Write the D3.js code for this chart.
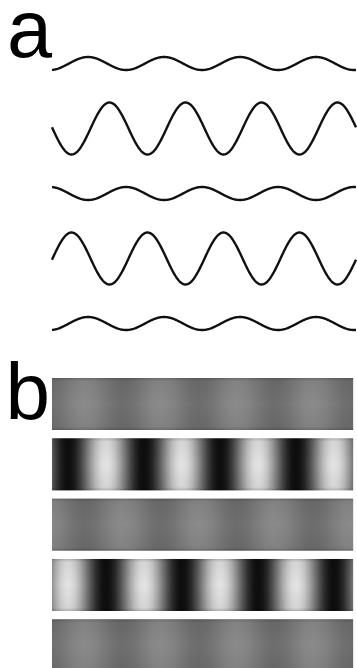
<!DOCTYPE html>
<html>
<head>
<meta charset="utf-8">
<script src="https://cdn.jsdelivr.net/npm/d3@7"></script>
<style>
html,body{margin:0;padding:0;background:#fff;}
svg{display:block;}
</style>
</head>
<body>
<script>
// ---- data ----
const panelLabels = ["a", "b"];
const rows = [1, 2, 3, 4, 5];
// relative contrast of each row (1 = full)
const waveContrast = [0.25, 1, 0.25, 1, 0.25];
// phase of the wave peak, in cycles from left edge
const wavePhase = [0.474, 0.757, 0.974, 0.257, 0.474];
// gratings: phase of the bright band, in cycles
const gratingContrast = [0.13, 1, 0.13, 1, 0.13];
const gratingPhase = [0.43, 0.71, 0.93, 0.21, 0.43];
const cycles = 4;

// ---- layout ----
const W = 357, H = 668;
const svg = d3.select("body").append("svg").attr("width", W).attr("height", H);

const x = d3.scaleLinear().domain([0, cycles]).range([52, 52 + 76 * cycles]);
const rowCenter = d3.scalePoint().domain(rows).range([63.5, 323.5]);
const ampPx = 26;

// panel labels
svg.append("text").attr("x", 7).attr("y", 57)
  .attr("font-family", "Liberation Sans, Arial, sans-serif")
  .attr("font-size", 81).attr("fill", "#000").text(panelLabels[0]);
svg.append("text").attr("x", 5.5).attr("y", 419)
  .attr("font-family", "Liberation Sans, Arial, sans-serif")
  .attr("font-size", 80).attr("fill", "#000").text(panelLabels[1]);

// ---- panel a: waves ----
const samples = d3.range(0, cycles + 0.0001, 0.01);
rows.forEach((r, i) => {
  const y = d3.scaleLinear().domain([-1, 1])
    .range([rowCenter(r) + ampPx, rowCenter(r) - ampPx]);
  const line = d3.line()
    .x(t => x(t))
    .y(t => y(waveContrast[i] * Math.cos(2 * Math.PI * (t - wavePhase[i]))))
    .curve(d3.curveLinear);
  svg.append("path").datum(samples)
    .attr("d", line)
    .attr("fill", "none")
    .attr("stroke", "#111")
    .attr("stroke-width", 2.4)
    .attr("stroke-linejoin", "round");
});

// ---- panel b: gratings ----
const gTop = d3.scalePoint().domain(rows).range([378, 619.3]);
const gH = 52;
const gx = d3.scaleLinear().domain([0, 301 / 76]).range([52, 353]);
const gray = d3.scaleLinear().domain([-1, 1]).range([14, 226]).clamp(true);
const meanGray = 124;

const defs = svg.append("defs");
const shade = defs.append("linearGradient").attr("id", "shade")
  .attr("x1", 0).attr("y1", 0).attr("x2", 0).attr("y2", 1);
[[0, 0.22], [0.06, 0.06], [0.5, 0], [0.94, 0.06], [1, 0.22]].forEach(([o, a]) => {
  shade.append("stop").attr("offset", o).attr("stop-color", "#000").attr("stop-opacity", a);
});

const cols = d3.range(0, 301);
rows.forEach((r, i) => {
  const g = svg.append("g");
  g.selectAll("rect").data(cols).join("rect")
    .attr("x", c => 52 + c)
    .attr("y", gTop(r))
    .attr("width", 1.2)
    .attr("height", gH)
    .attr("fill", c => {
      const t = gx.invert(52 + c + 0.5);
      const v = gratingContrast[i] * Math.cos(2 * Math.PI * (t - gratingPhase[i]));
      const k = i % 2 === 1 ? gray(v) : meanGray + v * 106;
      const kk = Math.round(k);
      return d3.rgb(kk, kk, kk);
    });
  g.append("rect")
    .attr("x", 52).attr("y", gTop(r)).attr("width", 301).attr("height", gH)
    .attr("fill", "url(#shade)");
});
</script>
</body>
</html>
